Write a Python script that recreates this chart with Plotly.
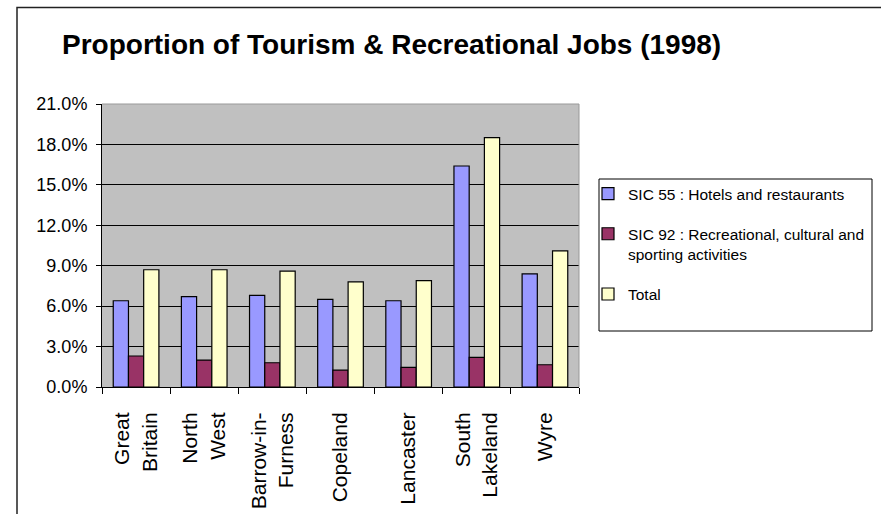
import plotly.graph_objects as go

categories = ["Great<br>Britain", "North<br>West", "Barrow-in-<br>Furness", "Copeland",
              "Lancaster", "South<br>Lakeland", "Wyre"]
sic55 = [6.4, 6.7, 6.8, 6.5, 6.4, 16.4, 8.4]
sic92 = [2.3, 2.0, 1.8, 1.25, 1.45, 2.2, 1.65]
total = [8.7, 8.7, 8.6, 7.8, 7.9, 18.5, 10.1]
y_ticks = [0, 3, 6, 9, 12, 15, 18, 21]
y_labels = ["%.1f%%" % v for v in y_ticks]

names = ["SIC 55 : Hotels and restaurants",
         "SIC 92 : Recreational, cultural and<br>sporting activities",
         "Total"]
colors = ["#9999FF", "#993366", "#FFFFCC"]
series = [sic55, sic92, total]

FONT = "Liberation Sans, Arial, sans-serif"

fig = go.Figure()
for i, (nm, col, vals) in enumerate(zip(names, colors, series)):
    fig.add_trace(go.Bar(
        x=categories, y=vals, name=nm, legendgroup=str(i),
        marker=dict(color=col, line=dict(color="black", width=1.2)),
    ))

L, R, T, B = 102, 302, 104, 127
W, H = 881, 514
pw, ph = W - L - R, H - T - B

def px_x(p):
    return (p - L) / pw

def px_y(p):
    return (H - B - p) / ph

fig.update_layout(
    width=W, height=H,
    margin=dict(l=L, r=R, t=T, b=B, autoexpand=False),
    paper_bgcolor="white",
    plot_bgcolor="#C0C0C0",
    barmode="group",
    bargap=0.33,
    bargroupgap=0,
    font=dict(family=FONT, color="black", size=13),
    title=dict(text="<b>Proportion of Tourism & Recreational Jobs (1998)</b>",
               xref="container", yref="container",
               x=62 / W, xanchor="left", y=1 - 44 / H, yanchor="middle",
               font=dict(family=FONT, size=28, color="black")),
    showlegend=True,
    legend=dict(x=px_x(588), y=px_y(177), xanchor="left", yanchor="top",
                bgcolor="rgba(0,0,0,0)", borderwidth=0,
                font=dict(family=FONT, size=15.5, color="black"),
                tracegroupgap=17, valign="top", itemwidth=30),
    xaxis=dict(showline=True, linecolor="black", linewidth=1, mirror=False,
               ticks="outside", ticklen=6, tickcolor="black", tickson="boundaries",
               tickangle=-90, tickfont=dict(family=FONT, size=21),
               showgrid=False, ticklabelstandoff=16),
    yaxis=dict(range=[0, 21], tickvals=y_ticks, ticktext=y_labels,
               showline=True, linecolor="black", linewidth=1,
               ticks="outside", ticklen=5, tickcolor="black",
               showgrid=True, gridcolor="black", gridwidth=1,
               tickfont=dict(family=FONT, size=18), zeroline=False,
               ticklabelstandoff=5),
    shapes=[
        # legend box
        dict(type="rect", xref="paper", yref="paper",
             x0=px_x(599), x1=px_x(872), y0=px_y(331), y1=px_y(179),
             line=dict(color="black", width=1), fillcolor="rgba(0,0,0,0)", layer="above"),
        # chart border
        dict(type="rect", xref="paper", yref="paper",
             x0=px_x(17), x1=px_x(900), y0=px_y(530), y1=px_y(7.5),
             line=dict(color="#222222", width=1.5), fillcolor="rgba(0,0,0,0)", layer="above"),
        # top/right border of plot area (light)
        dict(type="line", xref="paper", yref="paper", x0=0, x1=1, y0=1, y1=1,
             line=dict(color="#999999", width=1), layer="above"),
        dict(type="line", xref="paper", yref="paper", x0=1, x1=1, y0=0, y1=1,
             line=dict(color="#999999", width=1), layer="above"),
    ],
)

fig.write_html("out.html")
